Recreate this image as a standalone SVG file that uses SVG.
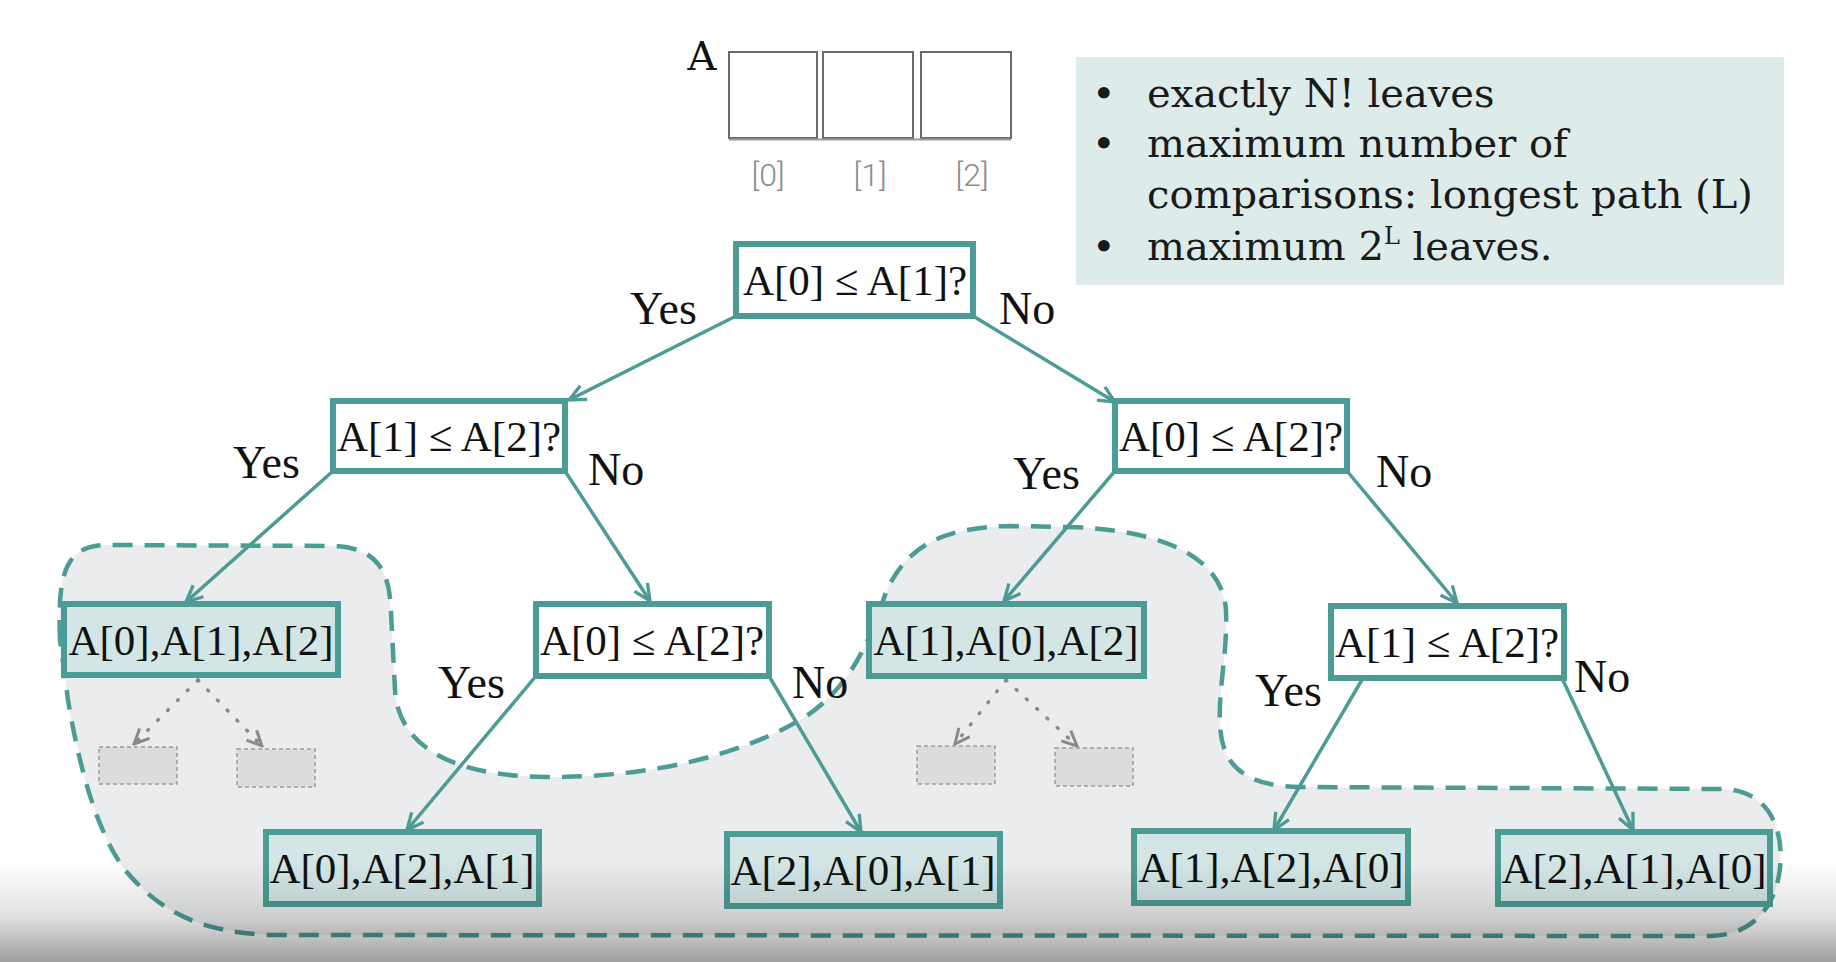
<svg xmlns="http://www.w3.org/2000/svg" width="1836" height="962" viewBox="0 0 1836 962">
<defs>
<style>
.dec{fill:#ffffff;stroke:#4d9b95;stroke-width:6}
.leaf{fill:#d3e6e5;stroke:#4d9b95;stroke-width:6}
.nt{font-family:"Liberation Serif","Times New Roman",serif;font-size:43px;fill:#111;text-anchor:middle}
.lbl{font-family:"Liberation Serif","Times New Roman",serif;font-size:46px;fill:#111}
.edge{stroke:#4d9b95;stroke-width:3.5;fill:none;marker-end:url(#arr)}
.dot{stroke:#8a8a8a;stroke-width:3.5;stroke-dasharray:1 13;stroke-linecap:round;fill:none;marker-end:url(#garr)}
.ghost{fill:#dcdcdc;stroke:#9a9a9a;stroke-width:1.5;stroke-dasharray:4 3}
.cell{fill:#ffffff;stroke:#6a6a6a;stroke-width:2}
.idx{font-family:Roboto,"Liberation Sans",sans-serif;font-weight:300;font-size:32px;fill:#8c8c8c;text-anchor:middle}
.info{font-family:"DejaVu Serif","Liberation Serif",serif;font-size:40px;fill:#1a1a1a}
</style>
<marker id="arr" viewBox="0 0 20 20" refX="18" refY="10" markerWidth="22" markerHeight="22" markerUnits="userSpaceOnUse" orient="auto">
<path d="M3,3 L18,10 L3,17" fill="none" stroke="#4d9b95" stroke-width="3"/>
</marker>
<marker id="garr" viewBox="0 0 20 20" refX="18" refY="10" markerWidth="20" markerHeight="20" markerUnits="userSpaceOnUse" orient="auto">
<path d="M3,3 L18,10 L3,17" fill="none" stroke="#8a8a8a" stroke-width="3"/>
</marker>
<linearGradient id="shade" x1="0" y1="0" x2="0" y2="1">
<stop offset="0" stop-color="#000" stop-opacity="0"/>
<stop offset="0.55" stop-color="#000" stop-opacity="0.12"/>
<stop offset="1" stop-color="#000" stop-opacity="0.38"/>
</linearGradient>
</defs>
<rect x="0" y="0" width="1836" height="962" fill="#ffffff"/>

<g id="leaf-region">
<path d="M60,640 C58,580 62,546 105,545 L335,546 C380,548 390,575 391,612 L395,690 C398,745 450,776 545,777 C650,778 740,755 800,720 C850,690 870,640 885,595 C905,545 945,527 1010,526 L1070,527 C1160,530 1222,555 1226,610 C1228,650 1218,690 1220,725 C1222,770 1250,786 1300,787 L1725,789 C1770,792 1784,830 1780,868 C1776,905 1755,935 1710,936 L270,935 C200,932 160,912 125,870 C95,830 78,760 68,700 Z" fill="#eaeced" stroke="#4d9b95" stroke-width="4.5" stroke-dasharray="20 12"/>
</g>

<g id="array">
<text x="702" y="70" font-family="DejaVu Serif,Liberation Serif,serif" font-size="40" fill="#111" text-anchor="middle">A</text>
<rect class="cell" x="729" y="52" width="88" height="86"/>
<rect class="cell" x="823" y="52" width="90" height="86"/>
<rect class="cell" x="921" y="52" width="90" height="86"/>
<line x1="729" y1="139.5" x2="1011" y2="139.5" stroke="#9a9a9a" stroke-width="2"/>
<text class="idx" x="768" y="186">[0]</text>
<text class="idx" x="870" y="186">[1]</text>
<text class="idx" x="972" y="186">[2]</text>
</g>

<g id="info">
<rect x="1076" y="57" width="708" height="228" fill="#ddeceb"/>
<text class="info" x="1092" y="107">•</text>
<text class="info" x="1147" y="107">exactly N! leaves</text>
<text class="info" x="1092" y="157">•</text>
<text class="info" x="1147" y="157">maximum number of</text>
<text class="info" x="1147" y="208">comparisons: longest path (L)</text>
<text class="info" x="1092" y="260">•</text>
<text class="info" x="1147" y="260">maximum 2<tspan font-size="24" dy="-16">L</tspan><tspan dy="16"> leaves.</tspan></text>
</g>

<g id="connectors">
<line class="edge" x1="736" y1="316" x2="569" y2="400"/>
<line class="edge" x1="973" y1="316" x2="1115" y2="402"/>
<line class="edge" x1="333" y1="471" x2="186" y2="602"/>
<line class="edge" x1="565" y1="471" x2="650" y2="601"/>
<line class="edge" x1="1115" y1="471" x2="1004" y2="601"/>
<line class="edge" x1="1347" y1="471" x2="1457" y2="603"/>
<line class="edge" x1="536" y1="676" x2="407" y2="830"/>
<line class="edge" x1="769" y1="676" x2="861" y2="832"/>
<line class="edge" x1="1363" y1="678" x2="1274" y2="830"/>
<line class="edge" x1="1562" y1="678" x2="1633" y2="830"/>
<line class="dot" x1="198" y1="680" x2="134" y2="744"/>
<line class="dot" x1="198" y1="680" x2="262" y2="746"/>
<line class="dot" x1="1006" y1="680" x2="955" y2="744"/>
<line class="dot" x1="1006" y1="680" x2="1077" y2="746"/>
</g>

<g id="labels">
<text class="lbl" x="630" y="324">Yes</text>
<text class="lbl" x="999" y="324">No</text>
<text class="lbl" x="233" y="478">Yes</text>
<text class="lbl" x="588" y="485">No</text>
<text class="lbl" x="1013" y="489">Yes</text>
<text class="lbl" x="1376" y="487">No</text>
<text class="lbl" x="438" y="698">Yes</text>
<text class="lbl" x="792" y="698">No</text>
<text class="lbl" x="1255" y="706">Yes</text>
<text class="lbl" x="1574" y="692">No</text>
</g>

<g id="n-root"><rect class="dec" x="736" y="244" width="237" height="72"/><text class="nt" x="855" y="295">A[0] ≤ A[1]?</text></g>
<g id="n-l1"><rect class="dec" x="333" y="401" width="232" height="70"/><text class="nt" x="449" y="451">A[1] ≤ A[2]?</text></g>
<g id="n-r1"><rect class="dec" x="1115" y="401" width="232" height="70"/><text class="nt" x="1231" y="451">A[0] ≤ A[2]?</text></g>
<g id="leaf-012"><rect class="leaf" x="64" y="604" width="274" height="71"/><text class="nt" x="201" y="655">A[0],A[1],A[2]</text></g>
<g id="n-m2"><rect class="dec" x="536" y="604" width="233" height="72"/><text class="nt" x="652" y="655">A[0] ≤ A[2]?</text></g>
<g id="leaf-102"><rect class="leaf" x="869" y="604" width="275" height="72"/><text class="nt" x="1006" y="655">A[1],A[0],A[2]</text></g>
<g id="n-r2"><rect class="dec" x="1331" y="606" width="233" height="72"/><text class="nt" x="1447" y="657">A[1] ≤ A[2]?</text></g>
<g id="leaf-021"><rect class="leaf" x="266" y="832" width="273" height="72"/><text class="nt" x="402" y="883">A[0],A[2],A[1]</text></g>
<g id="leaf-201"><rect class="leaf" x="727" y="834" width="273" height="72"/><text class="nt" x="863" y="885">A[2],A[0],A[1]</text></g>
<g id="leaf-120"><rect class="leaf" x="1134" y="831" width="274" height="72"/><text class="nt" x="1271" y="882">A[1],A[2],A[0]</text></g>
<g id="leaf-210"><rect class="leaf" x="1498" y="832" width="272" height="72"/><text class="nt" x="1634" y="883">A[2],A[1],A[0]</text></g>
<g id="ghost-boxes">
<rect class="ghost" x="99" y="747" width="78" height="37"/>
<rect class="ghost" x="237" y="749" width="78" height="38"/>
<rect class="ghost" x="917" y="746" width="78" height="38"/>
<rect class="ghost" x="1055" y="748" width="78" height="38"/>
</g>

<rect x="0" y="860" width="1836" height="102" fill="url(#shade)"/>
</svg>
